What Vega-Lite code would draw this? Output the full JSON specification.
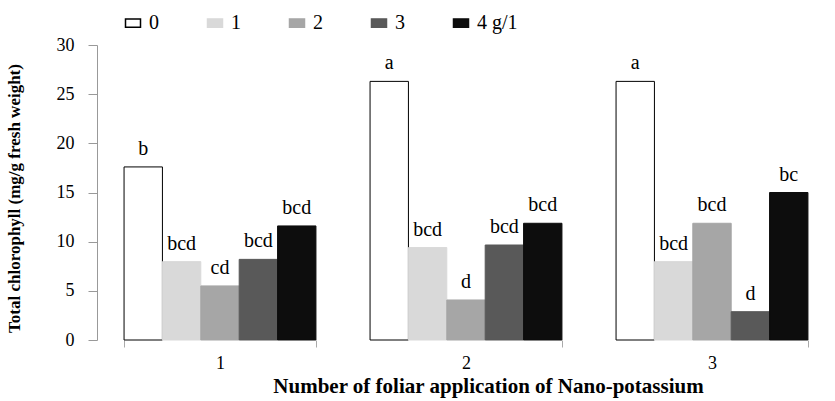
{
  "$schema": "https://vega.github.io/schema/vega-lite/v6.json",
  "autosize": "none",
  "width": 738,
  "height": 295,
  "padding": {"left": 97, "top": 45, "right": 0, "bottom": 61},
  "background": "white",
  "config": {
    "view": {"stroke": null},
    "font": "Times New Roman, Liberation Serif, DejaVu Serif, serif"
  },
  "data": {
    "values": [
      {"app": "1", "dose": "0", "value": 17.6, "label": "b"},
      {"app": "1", "dose": "1", "value": 7.97, "label": "bcd"},
      {"app": "1", "dose": "2", "value": 5.5, "label": "cd"},
      {"app": "1", "dose": "3", "value": 8.2, "label": "bcd"},
      {"app": "1", "dose": "4 g/1", "value": 11.6, "label": "bcd"},
      {"app": "2", "dose": "0", "value": 26.3, "label": "a"},
      {"app": "2", "dose": "1", "value": 9.4, "label": "bcd"},
      {"app": "2", "dose": "2", "value": 4.07, "label": "d"},
      {"app": "2", "dose": "3", "value": 9.66, "label": "bcd"},
      {"app": "2", "dose": "4 g/1", "value": 11.87, "label": "bcd"},
      {"app": "3", "dose": "0", "value": 26.3, "label": "a"},
      {"app": "3", "dose": "1", "value": 7.97, "label": "bcd"},
      {"app": "3", "dose": "2", "value": 11.87, "label": "bcd"},
      {"app": "3", "dose": "3", "value": 2.88, "label": "d"},
      {"app": "3", "dose": "4 g/1", "value": 15.0, "label": "bc"}
    ]
  },
  "encoding": {
    "x": {
      "field": "app",
      "type": "nominal",
      "scale": {"paddingInner": 0.22, "paddingOuter": 0.11},
      "axis": {
        "title": "Number of foliar application of Nano-potassium",
        "titleFont": "Times New Roman, Liberation Serif, DejaVu Serif, serif",
        "titleFontWeight": "bold",
        "titleFontSize": 21,
        "titleColor": "black",
        "titleX": 391,
        "titleY": 46,
        "titleAlign": "center",
        "titleBaseline": "middle",
        "titleAnchor": null,
        "labelAngle": 0,
        "labelFont": "Times New Roman, Liberation Serif, DejaVu Serif, serif",
        "labelFontSize": 18,
        "labelColor": "black",
        "labelPadding": 7,
        "domain": false,
        "tickBand": "extent",
        "tickSize": 7,
        "tickColor": "#aaaaaa"
      }
    },
    "xOffset": {
      "field": "dose",
      "type": "nominal",
      "sort": ["0", "1", "2", "3", "4 g/1"],
      "scale": {"paddingInner": 0, "paddingOuter": 0}
    },
    "y": {
      "field": "value",
      "type": "quantitative",
      "scale": {"domain": [0, 30], "nice": false},
      "axis": {
        "title": "Total chlorophyll (mg/g fresh weight)",
        "titleFont": "Times New Roman, Liberation Serif, DejaVu Serif, serif",
        "titleFontWeight": "bold",
        "titleFontSize": 17,
        "titleColor": "black",
        "titleX": -74,
        "titleY": 153,
        "titleAngle": -90,
        "titleAlign": "center",
        "titleBaseline": "bottom",
        "titleAnchor": null,
        "values": [0, 5, 10, 15, 20, 25, 30],
        "grid": false,
        "domainColor": "#999999",
        "tickColor": "#999999",
        "tickSize": 9,
        "labelPadding": 14,
        "labelFont": "Times New Roman, Liberation Serif, DejaVu Serif, serif",
        "labelFontSize": 18,
        "labelColor": "black"
      }
    }
  },
  "layer": [
    {
      "mark": {"type": "bar", "strokeWidth": 1},
      "encoding": {
        "fill": {
          "field": "dose",
          "type": "nominal",
          "sort": ["0", "1", "2", "3", "4 g/1"],
          "scale": {
            "domain": ["0", "1", "2", "3", "4 g/1"],
            "range": ["#ffffff", "#d9d9d9", "#a6a6a6", "#595959", "#0d0d0d"]
          },
          "legend": {
            "title": null,
            "orient": "none",
            "direction": "horizontal",
            "legendX": 26,
            "legendY": -32,
            "columns": 5,
            "gridAlign": "all",
            "columnPadding": 14,
            "symbolType": "M-1,-0.55H1V0.55H-1Z",
            "symbolSize": 225,
            "symbolOffset": 0,
            "labelOffset": 6,
            "labelFont": "Times New Roman, Liberation Serif, DejaVu Serif, serif",
            "labelFontSize": 20,
            "labelColor": "black"
          }
        },
        "stroke": {
          "field": "dose",
          "type": "nominal",
          "sort": ["0", "1", "2", "3", "4 g/1"],
          "scale": {
            "domain": ["0", "1", "2", "3", "4 g/1"],
            "range": ["#000000", "#d9d9d9", "#a6a6a6", "#595959", "#0d0d0d"]
          },
          "legend": {
            "title": null,
            "orient": "none",
            "direction": "horizontal",
            "legendX": 26,
            "legendY": -32,
            "columns": 5,
            "gridAlign": "all",
            "columnPadding": 14,
            "symbolType": "M-1,-0.55H1V0.55H-1Z",
            "symbolSize": 225,
            "symbolOffset": 0,
            "labelOffset": 6,
            "labelFont": "Times New Roman, Liberation Serif, DejaVu Serif, serif",
            "labelFontSize": 20,
            "labelColor": "black"
          }
        }
      }
    },
    {
      "mark": {
        "type": "text",
        "dy": -12,
        "baseline": "alphabetic",
        "align": "center",
        "font": "Times New Roman, Liberation Serif, DejaVu Serif, serif",
        "fontSize": 20,
        "color": "black"
      },
      "encoding": {
        "text": {"field": "label", "type": "nominal"}
      }
    }
  ]
}
